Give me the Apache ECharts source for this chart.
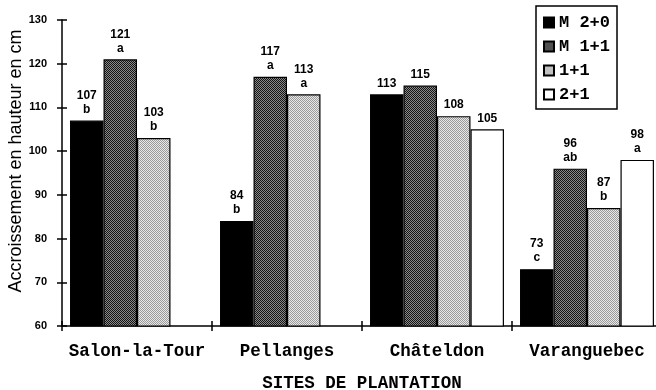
<!DOCTYPE html>
<html>
<head>
<meta charset="utf-8">
<script src="https://cdn.jsdelivr.net/npm/echarts@6/dist/echarts.min.js"></script>
<style>html,body{margin:0;padding:0;background:#fff;}#c{width:656px;height:390px;}</style>
</head>
<body>
<div id="c"></div>
<script>
const categories = ['Salon-la-Tour', 'Pellanges', 'Châteldon', 'Varanguebec'];
const seriesNames = ['M 2+0', 'M 1+1', '1+1', '2+1'];
const valuesM20 = [107, 84, 113, 73];
const valuesM11 = [121, 117, 115, 96];
const values11 = [103, 113, 108, 87];
const values21 = [null, null, 105, 98];
const lettersM20 = ['b', 'b', '', 'c'];
const lettersM11 = ['a', 'a', '', 'ab'];
const letters11 = ['b', 'a', '', 'b'];
const letters21 = ['', '', '', 'a'];
const yTicks = [60, 70, 80, 90, 100, 110, 120, 130];
const yAxisTitle = 'Accroissement en hauteur en cm';
const xAxisTitle = 'SITES DE PLANTATION';

function pattern(base, dot) {
  const cv = document.createElement('canvas');
  cv.width = 2; cv.height = 2;
  const ctx = cv.getContext('2d');
  ctx.fillStyle = base; ctx.fillRect(0, 0, 2, 2);
  ctx.fillStyle = dot; ctx.fillRect(0, 0, 1, 1); ctx.fillRect(1, 1, 1, 1);
  return { image: cv, repeat: 'repeat' };
}

const fills = ['#000000', pattern('#8a8a8a', '#141414'), pattern('#e8e8e8', '#9a9a9a'), '#ffffff'];
const allValues = [valuesM20, valuesM11, values11, values21];
const allLetters = [lettersM20, lettersM11, letters11, letters21];

const chart = echarts.init(document.getElementById('c'), null, { renderer: 'canvas' });

const series = seriesNames.map((name, i) => ({
  name: name,
  type: 'bar',
  xAxisIndex: 0,
  yAxisIndex: 0,
  barGap: '0%',
  barCategoryGap: '10.7%',
  data: allValues[i],
  itemStyle: { color: fills[i], borderColor: '#000', borderWidth: 1.2 },
  label: {
    show: true,
    position: 'top',
    distance: 4,
    color: '#000',
    fontFamily: 'Liberation Sans, Arial, sans-serif',
    fontWeight: 'bold',
    fontSize: 12,
    lineHeight: 14,
    formatter: function (p) {
      const l = allLetters[p.seriesIndex][p.dataIndex];
      return l ? p.value + '\n' + l : String(p.value);
    }
  }
}));

const axisStyle = { lineStyle: { color: '#000', width: 1.5 } };

chart.setOption({
  animation: false,
  backgroundColor: '#fff',
  grid: { left: 62, right: -6, top: 20, bottom: 64, outerBoundsMode: 'none' },
  legend: {
    orient: 'vertical',
    left: 536,
    top: 6,
    data: seriesNames,
    icon: 'rect',
    itemWidth: 10,
    itemHeight: 10,
    itemGap: 7,
    padding: [8, 7, 6, 7],
    borderColor: '#000',
    borderWidth: 1.5,
    backgroundColor: '#fff',
    textStyle: {
      fontFamily: 'Liberation Mono, Courier New, monospace',
      fontWeight: 'bold',
      fontSize: 17,
      color: '#000'
    }
  },
  xAxis: [
    {
      type: 'category',
      data: categories,
      position: 'bottom',
      boundaryGap: true,
      axisLine: axisStyle,
      axisTick: { show: true, length: 5, lineStyle: { color: '#000', width: 1.5 } },
      axisLabel: {
        interval: 0,
        color: '#000',
        fontFamily: 'Liberation Mono, Courier New, monospace',
        fontWeight: 'bold',
        fontSize: 17.5,
        margin: 17
      },
      name: xAxisTitle,
      nameLocation: 'middle',
      nameGap: 49,
      nameMoveOverlap: false,
      nameTextStyle: {
        color: '#000',
        fontFamily: 'Liberation Mono, Courier New, monospace',
        fontWeight: 'bold',
        fontSize: 17.5
      },
      splitLine: { show: false }
    },
    {
      type: 'category',
      data: categories,
      position: 'bottom',
      boundaryGap: true,
      axisLine: { show: false },
      axisTick: { show: true, inside: true, length: 5, lineStyle: { color: '#000', width: 1.5 } },
      axisLabel: { show: false },
      splitLine: { show: false }
    }
  ],
  yAxis: [
    {
      type: 'value',
      min: yTicks[0],
      max: yTicks[yTicks.length - 1],
      interval: 10,
      position: 'left',
      axisLine: { show: true, lineStyle: { color: '#000', width: 1.5 } },
      axisTick: { show: true, length: 5, lineStyle: { color: '#000', width: 1.5 } },
      axisLabel: {
        color: '#000',
        fontFamily: 'Liberation Sans, Arial, sans-serif',
        fontWeight: 'bold',
        fontSize: 11,
        margin: 15
      },
      splitLine: { show: false },
      name: yAxisTitle,
      nameLocation: 'middle',
      nameGap: 37,
      nameRotate: 90,
      nameMoveOverlap: false,
      nameTextStyle: {
        color: '#000',
        fontFamily: 'Liberation Sans, Arial, sans-serif',
        fontSize: 18,
        padding: [0, 0, 0, 24]
      }
    },
    {
      type: 'value',
      min: yTicks[0],
      max: yTicks[yTicks.length - 1],
      interval: 10,
      position: 'left',
      axisLine: { show: false },
      axisTick: { show: true, inside: true, length: 5, lineStyle: { color: '#000', width: 1.5 } },
      axisLabel: { show: false },
      splitLine: { show: false }
    }
  ],
  series: series
});
</script>
</body>
</html>
